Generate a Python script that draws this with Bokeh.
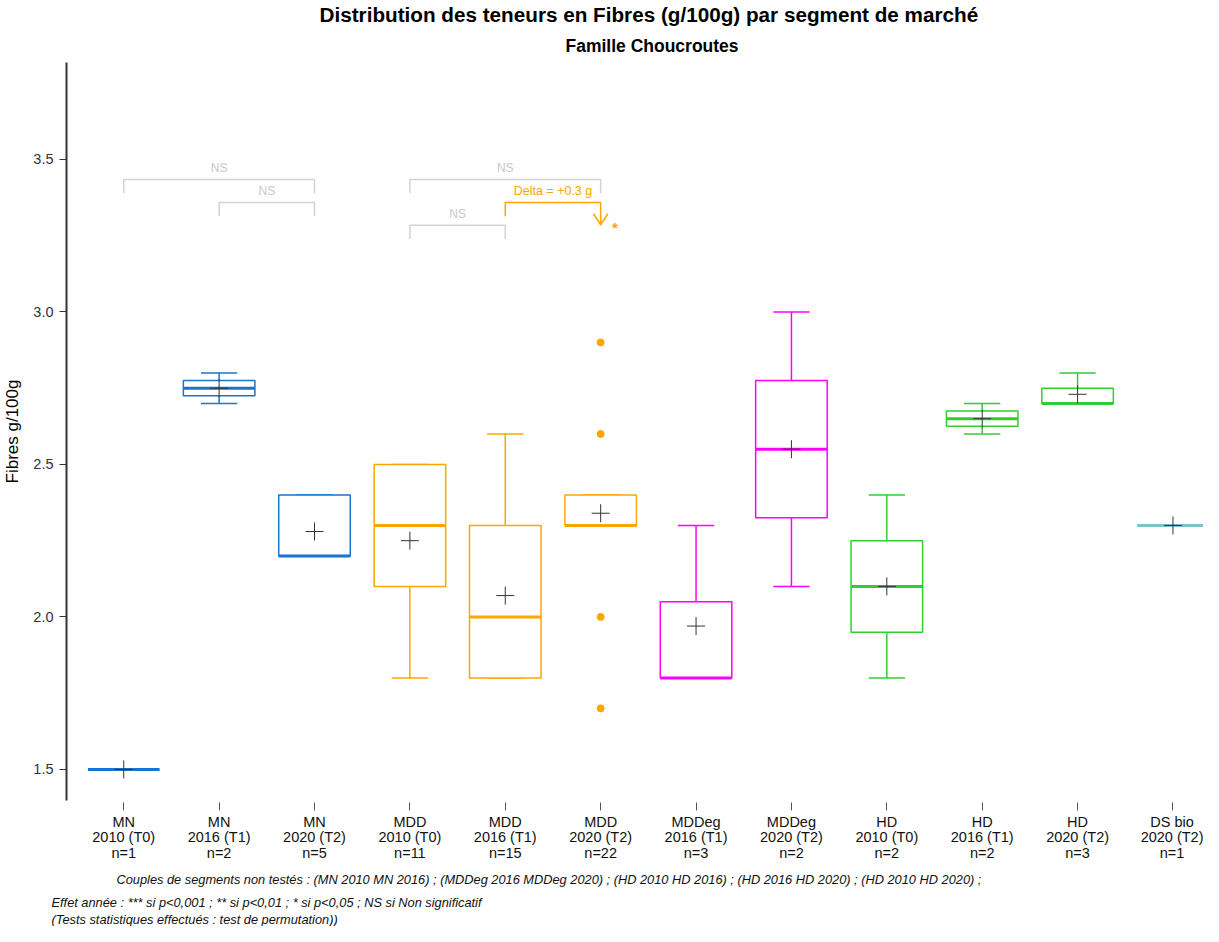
from bokeh.plotting import figure
from bokeh.models import Range1d, FixedTicker, Title, ColumnDataSource, PrintfTickFormatter
from bokeh.core.properties import value
from bokeh.embed import file_html
from bokeh.resources import INLINE

# ---------------- data ----------------
segments = ["MN", "MN", "MN", "MDD", "MDD", "MDD", "MDDeg", "MDDeg", "HD", "HD", "HD", "DS bio"]
periods = ["2010 (T0)", "2016 (T1)", "2020 (T2)", "2010 (T0)", "2016 (T1)", "2020 (T2)",
           "2016 (T1)", "2020 (T2)", "2010 (T0)", "2016 (T1)", "2020 (T2)", "2020 (T2)"]
counts = [1, 2, 5, 11, 15, 22, 3, 2, 2, 2, 3, 1]
whisker_low = [1.5, 2.70, 2.2, 1.8, 1.8, 2.3, 1.80, 2.100, 1.80, 2.600, 2.70, 2.3]
q1 = [1.5, 2.725, 2.2, 2.1, 1.8, 2.3, 1.80, 2.325, 1.95, 2.625, 2.70, 2.3]
medians = [1.5, 2.750, 2.2, 2.3, 2.0, 2.3, 1.80, 2.550, 2.10, 2.650, 2.70, 2.3]
q3 = [1.5, 2.775, 2.4, 2.5, 2.3, 2.4, 2.05, 2.775, 2.25, 2.675, 2.75, 2.3]
whisker_high = [1.5, 2.80, 2.4, 2.5, 2.6, 2.4, 2.30, 3.000, 2.40, 2.700, 2.80, 2.3]
means = [1.5, 2.75, 2.28, 2.25, 2.07, 2.34, 1.97, 2.55, 2.10, 2.65, 2.73, 2.3]
outlier_group = [6, 6, 6, 6]
outlier_values = [2.9, 2.6, 2.0, 1.7]
segment_colors = {"MN": "#1874CD", "MDD": "#FFA500", "MDDeg": "#FF00FF",
                  "HD": "#32CD32", "DS bio": "#7AC5CD"}
y_ticks = [1.5, 2.0, 2.5, 3.0, 3.5]
# comparisons: (group a, group b, level, label, significant)
comparisons = [(1, 3, 0, "NS", False), (2, 3, 1, "NS", False),
               (4, 6, 0, "NS", False), (4, 5, 2, "NS", False),
               (5, 6, 1, "Delta = +0.3 g", True)]
title_text = "Distribution des teneurs en Fibres (g/100g) par segment de marché"
subtitle_text = "Famille Choucroutes"
y_label = "Fibres g/100g"
footnotes = [
    "Couples de segments non testés : (MN 2010 MN 2016) ; (MDDeg 2016 MDDeg 2020) ; (HD 2010 HD 2016) ; (HD 2016 HD 2020) ; (HD 2010 HD 2020) ;",
    "Effet année : *** si p<0,001 ; ** si p<0,01 ; * si p<0,05 ; NS si Non significatif",
    "(Tests statistiques effectués : test de permutation))",
]

FONT = "Liberation Sans"
xs = list(range(1, len(segments) + 1))
colors = [segment_colors[s] for s in segments]
hw = 0.375
cw = 0.19

p = figure(width=1203, height=926, x_range=Range1d(0.4, 12.32), y_range=Range1d(1.398, 3.818),
           output_backend="svg", toolbar_location=None,
           min_border_left=0, min_border_right=0, min_border_top=0, min_border_bottom=0)
p.outline_line_color = None
p.xgrid.visible = False
p.ygrid.visible = False

src = ColumnDataSource(dict(
    x=xs, left=[x - hw for x in xs], right=[x + hw for x in xs],
    cl=[x - cw for x in xs], cr=[x + cw for x in xs],
    lo=whisker_low, q1=q1, med=medians, q3=q3, hi=whisker_high, mean=means, color=colors))

# whiskers
p.segment(x0="x", y0="q3", x1="x", y1="hi", line_color="color", line_width=1.5, source=src)
p.segment(x0="x", y0="q1", x1="x", y1="lo", line_color="color", line_width=1.5, source=src)
p.segment(x0="cl", y0="hi", x1="cr", y1="hi", line_color="color", line_width=1.5, source=src)
p.segment(x0="cl", y0="lo", x1="cr", y1="lo", line_color="color", line_width=1.5, source=src)
# boxes
p.quad(left="left", right="right", bottom="q1", top="q3", fill_color="white",
       line_color="color", line_width=1.5, source=src)
p.segment(x0="left", y0="med", x1="right", y1="med", line_color="color", line_width=3, source=src)
# outliers
p.scatter(x=outlier_group, y=outlier_values, size=7, fill_color=segment_colors["MDD"],
          line_color=segment_colors["MDD"])
# means
p.scatter(x="x", y="mean", marker="cross", size=18, line_color="#333333", line_width=1, source=src)

# comparison brackets
level_y = [3.434, 3.359, 3.284]
drop = 0.045
for a, b, lev, lab, sig in comparisons:
    yy = level_y[lev]
    col = segment_colors["MDD"] if sig else "#D3D3D3"
    if sig:
        tip = yy - 0.073
        p.line(x=[a, a, b, b], y=[yy - drop, yy, yy, tip], line_color=col, line_width=1.5)
        p.line(x=[b - 0.075, b, b + 0.075], y=[tip + 0.036, tip, tip + 0.036], line_color=col, line_width=1.5)
        p.text(x=[b + 0.15], y=[tip - 0.01], text=["*"], text_color=col, text_font=value(FONT),
               text_font_size="15px", text_font_style="bold", text_align="center", text_baseline="middle")
        p.text(x=[(a + b) / 2], y=[yy + 0.038], text=[lab], text_color=col, text_font=value(FONT),
               text_font_size="12.5px", text_align="center", text_baseline="middle")
    else:
        p.line(x=[a, a, b, b], y=[yy - drop, yy, yy, yy - drop], line_color=col, line_width=1.5)
        p.text(x=[(a + b) / 2], y=[yy + 0.038], text=[lab], text_color="#C8C8C8", text_font=value(FONT),
               text_font_size="12px", text_align="center", text_baseline="middle")

# axes
p.yaxis.ticker = FixedTicker(ticks=y_ticks)
p.yaxis.formatter = PrintfTickFormatter(format="%.1f")
p.yaxis.axis_label = y_label
p.yaxis.axis_label_text_font = FONT
p.yaxis.axis_label_text_font_size = "17px"
p.yaxis.axis_label_text_font_style = "normal"
p.yaxis.axis_label_text_color = "#000000"
p.yaxis.axis_label_standoff = 8
p.yaxis.major_label_text_font = FONT
p.yaxis.major_label_text_font_size = "14.5px"
p.yaxis.major_label_text_color = "#333333"
p.yaxis.major_label_standoff = 6
p.yaxis.axis_line_color = "#333333"
p.yaxis.axis_line_width = 2
p.yaxis.major_tick_line_color = "#333333"
p.yaxis.major_tick_out = 7
p.yaxis.major_tick_in = 0
p.yaxis.minor_tick_line_color = None

p.xaxis.ticker = FixedTicker(ticks=xs)
p.xaxis.major_label_overrides = {x: f"{s}\n{per}\nn={n}" for x, s, per, n in zip(xs, segments, periods, counts)}
p.xaxis.axis_line_color = None
p.xaxis.major_tick_line_color = "#555555"
p.xaxis.major_tick_out = 10
p.xaxis.major_tick_in = -2
p.xaxis.minor_tick_line_color = None
p.xaxis.major_label_text_font = FONT
p.xaxis.major_label_text_font_size = "14.5px"
p.xaxis.major_label_text_line_height = 0.99
p.xaxis.major_label_text_color = "#111111"
p.xaxis.major_label_standoff = 3

# titles (first added sits closest to the plot)
p.add_layout(Title(text=subtitle_text, align="left", offset=499, text_font=FONT, text_color="#000000",
                   text_font_size="17.5px", text_font_style="bold", standoff=14), "above")
p.add_layout(Title(text=title_text, align="left", offset=253, text_font=FONT, text_color="#000000",
                   text_font_size="20.7px", text_font_style="bold", standoff=1), "above")

# footnotes (stacked below the axis, first added sits closest to the plot)
for txt, off, so in zip(footnotes, [50, -15, -15], [11, 0, 0]):
    p.add_layout(Title(text=txt, align="left", offset=off, text_font=FONT, text_font_size="12.8px",
                       text_font_style="italic", text_color="#111111", standoff=so), "below")

open("out.html", "w").write(file_html(p, INLINE))
